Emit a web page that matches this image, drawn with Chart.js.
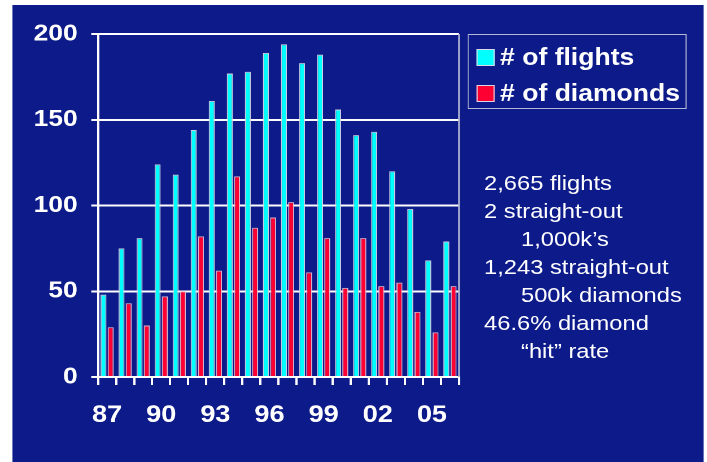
<!DOCTYPE html>
<html>
<head>
<meta charset="utf-8">
<script src="https://cdn.jsdelivr.net/npm/chart.js@4/dist/chart.umd.min.js"></script>
<style>
  html, body { margin: 0; padding: 0; background: #ffffff; width: 707px; height: 462px; overflow: hidden; }
  #wrap { position: absolute; left: 0; top: 0; width: 626px; height: 462px; transform: scaleX(1.12939); transform-origin: 0 0; font-family: "Liberation Sans", Arial, Helvetica, sans-serif; }
  #navy { position: absolute; left: 10.6px; top: 5px; width: 612.7px; height: 457px; background: #0d1b8a; }
  #c { position: absolute; left: 0; top: 0; }
  #legend { position: absolute; left: 414.4px; top: 34px; width: 192px; height: 73px; border: 1.5px solid #b4b8d4; }
  .li { position: absolute; left: 0; height: 30px; line-height: 30px; color: #fff; font-weight: bold; font-size: 23.5px; white-space: nowrap; }
  .sw { position: absolute; left: 6.5px; top: 6.5px; width: 14px; height: 15px; border: 1px solid #d8d8e8; }
  .lt { position: absolute; left: 27.4px; top: 0; }
  .note { position: absolute; color: #fff; font-size: 21px; line-height: 28px; height: 28px; white-space: nowrap; }
</style>
</head>
<body>
<div id="wrap">
  <div id="navy"></div>
  <canvas id="c" width="626" height="462"></canvas>
  <div id="legend">
    <div class="li" style="top:7px;"><div class="sw" style="background:#00ffff;"></div><span class="lt"># of flights</span></div>
    <div class="li" style="top:43px;"><div class="sw" style="background:#ff0033;"></div><span class="lt"># of diamonds</span></div>
  </div>
  <div class="note" style="left:428.6px; top:169px;">2,665 flights</div>
  <div class="note" style="left:428.6px; top:197px;">2 straight-out</div>
  <div class="note" style="left:461.3px; top:225px;">1,000k’s</div>
  <div class="note" style="left:428.6px; top:253px;">1,243 straight-out</div>
  <div class="note" style="left:461.3px; top:281px;">500k diamonds</div>
  <div class="note" style="left:428.6px; top:309px;">46.6% diamond</div>
  <div class="note" style="left:461.3px; top:337px;">“hit” rate</div>
</div>
<script>
const years = ['87','88','89','90','91','92','93','94','95','96','97','98','99','00','01','02','03','04','05','06'];
const flights = [48, 75, 81, 124, 118, 144, 161, 177, 178, 189, 194, 183, 188, 156, 141, 143, 120, 98, 68, 79];
const diamonds = [29, 43, 30, 47, 50, 82, 62, 117, 87, 93, 102, 61, 81, 52, 81, 53, 55, 38, 26, 53];
const yTicks = [0, 50, 100, 150, 200];

const FONT = '"Liberation Sans", Arial, Helvetica, sans-serif';

const rightBorder = {
  id: 'rightBorder',
  afterDraw(chart) {
    const { ctx, chartArea } = chart;
    ctx.save();
    ctx.strokeStyle = '#b4b8d4';
    ctx.lineWidth = 1.5;
    ctx.beginPath();
    ctx.moveTo(chartArea.right, chartArea.top);
    ctx.lineTo(chartArea.right, chartArea.bottom);
    ctx.stroke();
    ctx.restore();
  }
};

new Chart(document.getElementById('c'), {
  type: 'bar',
  data: {
    labels: years,
    datasets: [
      { label: '# of flights', data: flights, backgroundColor: '#00ffff', borderColor: 'rgba(215,215,230,0.95)', borderWidth: 1, borderSkipped: 'bottom' },
      { label: '# of diamonds', data: diamonds, backgroundColor: '#ff0033', borderColor: 'rgba(225,190,205,0.95)', borderWidth: 1, borderSkipped: 'bottom' }
    ]
  },
  plugins: [rightBorder],
  options: {
    responsive: false,
    animation: false,
    devicePixelRatio: 2,
    layout: { padding: { left: 0, right: 219.6, top: 34, bottom: 0 } },
    plugins: { legend: { display: false }, tooltip: { enabled: false } },
    datasets: { bar: { categoryPercentage: 0.8, barPercentage: 0.83 } },
    scales: {
      x: {
        afterFit(axis) { axis.height = 85; },
        grid: { display: true, drawOnChartArea: false, drawTicks: true, tickLength: 8, color: '#ffffff', lineWidth: 2, offset: true },
        border: { display: true, color: '#ffffff', width: 2 },
        ticks: {
          autoSkip: false, maxRotation: 0, minRotation: 0, padding: 16, color: '#ffffff',
          font: { family: FONT, size: 24, weight: 'bold' },
          callback(val, idx) { return idx % 3 === 0 ? this.getLabelForValue(val) : ''; }
        }
      },
      y: {
        min: yTicks[0], max: yTicks[yTicks.length - 1],
        afterFit(axis) { axis.width = 86.8; },
        afterBuildTicks(axis) { axis.ticks = yTicks.map(v => ({ value: v })); },
        grid: { color: '#ffffff', lineWidth: 2, tickLength: 6, drawTicks: true },
        border: { display: true, color: '#ffffff', width: 2 },
        ticks: { padding: 12, color: '#ffffff', font: { family: FONT, size: 23.4, weight: 'bold' } }
      }
    }
  }
});
</script>
</body>
</html>
